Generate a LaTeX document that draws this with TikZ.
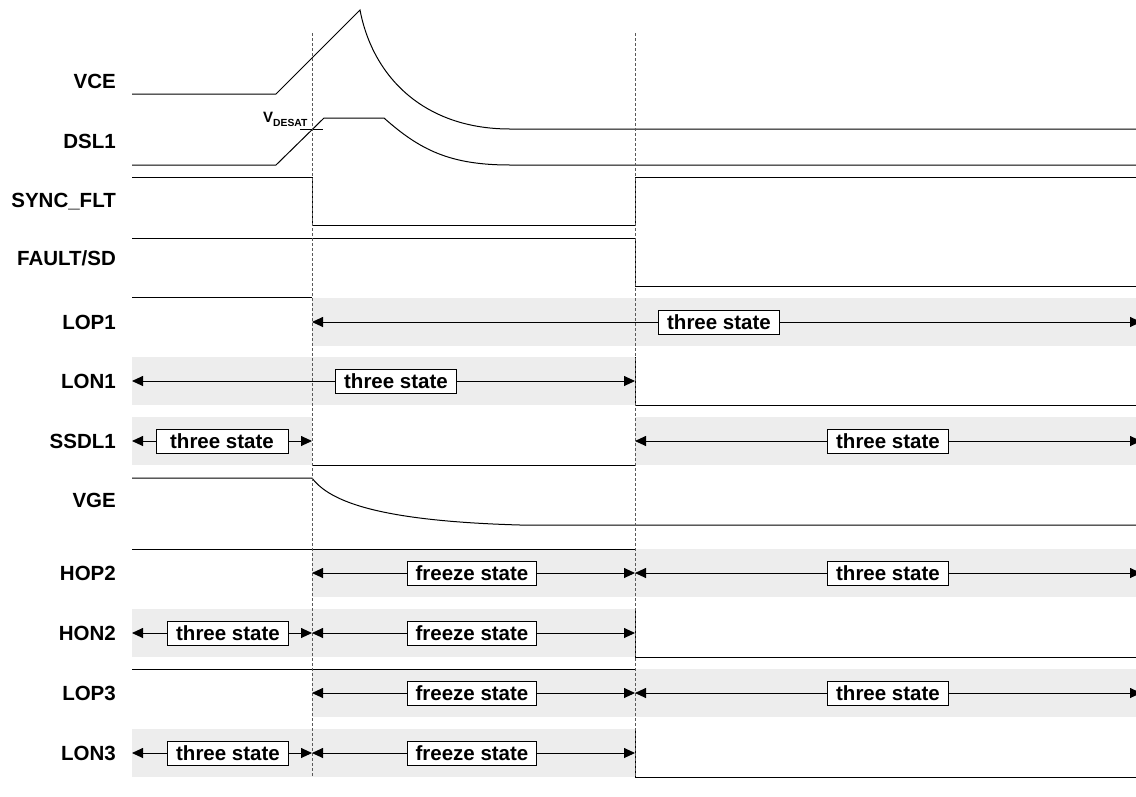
\documentclass[tikz,border=0pt]{standalone}
\usepackage{fontspec}
\setmainfont{Liberation Sans}
\usetikzlibrary{arrows.meta}
\tikzset{
  sig/.style={line width=1pt, black},
  band/.style={fill=black!7, draw=none},
  rowlabel/.style={anchor=east, inner sep=0pt, text height=14.5pt, text depth=0pt, font=\fontsize{20.5}{24}\selectfont\bfseries},
  statebox/.style={draw, line width=0.9pt, fill=white, inner xsep=8.5pt, inner ysep=4.5pt, text height=15pt, text depth=0pt, font=\fontsize{20.5}{24}\selectfont\bfseries},
  twoway/.style={line width=0.9pt, {Triangle[length=11pt,width=10pt]}-{Triangle[length=11pt,width=10pt]}},
  mark line/.style={dash pattern=on 3pt off 2pt, line width=0.8pt, black!65}
}
\begin{document}
\begin{tikzpicture}[x=1pt,y=-1pt]
\useasboundingbox (0,0) rectangle (1136,796);
% time columns
\coordinate (t0) at (132,0);
\coordinate (t1) at (312,0);
\coordinate (t2) at (635,0);
\coordinate (tE) at (1136,0);
\coordinate (tR) at (1141,0);
% row labels
\node[rowlabel] (VCE)   at (116,81)  {VCE};
\node[rowlabel] (DSL1)  at (116,141) {DSL1};
\node[rowlabel] (SYNC)  at (116,200) {SYNC\_FLT};
\node[rowlabel] (FAULT) at (116,258) {FAULT/SD};
\node[rowlabel] (LOP1)  at (116,322) {LOP1};
\node[rowlabel] (LON1)  at (116,381) {LON1};
\node[rowlabel] (SSDL1) at (116,441) {SSDL1};
\node[rowlabel] (VGE)   at (116,500) {VGE};
\node[rowlabel] (HOP2)  at (116,573) {HOP2};
\node[rowlabel] (HON2)  at (116,633) {HON2};
\node[rowlabel] (LOP3)  at (116,693) {LOP3};
\node[rowlabel] (LON3)  at (116,753) {LON3};
% gray bands
\fill[band] (312,298) rectangle (1136,346);
\fill[band] (132,357) rectangle (635,405);
\fill[band] (132,417) rectangle (312,465);
\fill[band] (635,417) rectangle (1136,465);
\fill[band] (312,549) rectangle (1136,597);
\fill[band] (132,609) rectangle (635,657);
\fill[band] (312,669) rectangle (1136,717);
\fill[band] (132,729) rectangle (635,777);
% analog signals
\draw[sig] (132,94) -- (276,94) -- (360,10) .. controls (373,78) and (425,129) .. (510,129) -- (1136,129);
\draw[sig] (132,165) -- (276,165) -- (324,118) -- (384,118) .. controls (420,150) and (450,165) .. (510,165) -- (1136,165);
\draw[sig] (300,129) -- (323,129);
\node[anchor=base west, inner sep=0pt, font=\bfseries] (VD) at (263,122) {\fontsize{15}{18}\selectfont V\raisebox{-4.5pt}{\fontsize{10.3}{12}\selectfont DESAT}};
% digital signals
\draw[sig] (132,177) -- (312,177) -- (312,225) -- (635,225) -- (635,177) -- (1136,177);
\draw[sig] (132,238) -- (635,238) -- (635,286) -- (1136,286);
\draw[sig] (132,297) -- (312,297);
\draw[sig] (635,357) -- (635,405) -- (1136,405);
\draw[sig] (312,465) -- (635,465);
\draw[sig] (132,478) -- (312,478) .. controls (330,502) and (380,521) .. (520,525) -- (1136,525);
\draw[sig] (132,549) -- (635,549);
\draw[sig] (635,609) -- (635,657) -- (1136,657);
\draw[sig] (132,669) -- (635,669);
\draw[sig] (635,729) -- (635,777) -- (1136,777);
% markers
\draw[mark line] (312,33) -- (312,776);
\draw[mark line] (635,33) -- (635,776);
% state arrows
\draw[twoway] (t1 |- LOP1) -- (tR |- LOP1);
\node[statebox] (s1) at (719,322) {three state};
\draw[twoway] (t0 |- LON1) -- (t2 |- LON1);
\node[statebox] (s2) at (396,381) {three state};
\draw[twoway] (t0 |- SSDL1) -- (t1 |- SSDL1);
\node[statebox, minimum width=132pt] (s3) at (222,441) {three state};
\draw[twoway] (t2 |- SSDL1) -- (tR |- SSDL1);
\node[statebox] (s4) at (888,441) {three state};
\draw[twoway] (t1 |- HOP2) -- (t2 |- HOP2);
\node[statebox] (s5) at (472,573) {freeze state};
\draw[twoway] (t2 |- HOP2) -- (tR |- HOP2);
\node[statebox] (s6) at (888,573) {three state};
\draw[twoway] (t0 |- HON2) -- (t1 |- HON2);
\node[statebox] (s7) at (228,633) {three state};
\draw[twoway] (t1 |- HON2) -- (t2 |- HON2);
\node[statebox] (s8) at (472,633) {freeze state};
\draw[twoway] (t1 |- LOP3) -- (t2 |- LOP3);
\node[statebox] (s9) at (472,693) {freeze state};
\draw[twoway] (t2 |- LOP3) -- (tR |- LOP3);
\node[statebox] (s10) at (888,693) {three state};
\draw[twoway] (t0 |- LON3) -- (t1 |- LON3);
\node[statebox] (s11) at (228,753) {three state};
\draw[twoway] (t1 |- LON3) -- (t2 |- LON3);
\node[statebox] (s12) at (472,753) {freeze state};
\end{tikzpicture}
\end{document}
